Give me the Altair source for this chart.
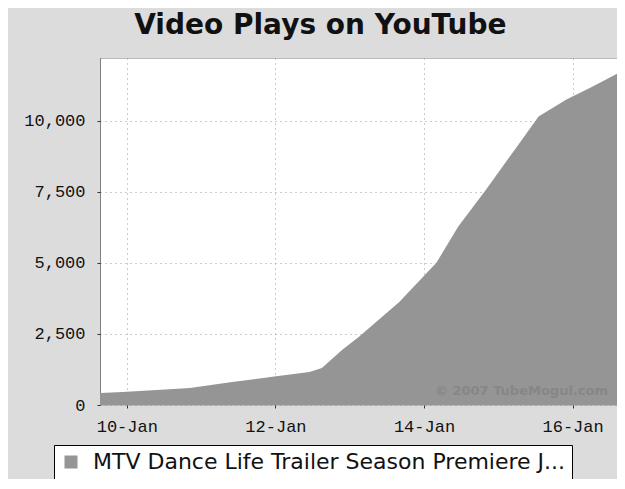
import altair as alt
import pandas as pd

# Cumulative video plays
times = [
    "2007-01-09T15:20", "2007-01-09T22:40", "2007-01-10T09:36", "2007-01-10T20:24",
    "2007-01-11T10:00", "2007-01-11T23:00", "2007-01-12T11:00", "2007-01-12T15:00",
    "2007-01-12T21:36", "2007-01-13T03:00", "2007-01-13T16:00", "2007-01-14T04:00",
    "2007-01-14T11:00", "2007-01-14T20:00", "2007-01-15T06:00", "2007-01-15T13:00",
    "2007-01-15T22:00", "2007-01-16T06:30", "2007-01-16T14:20",
]
plays = [
    420, 460, 530, 600,
    810, 990, 1160, 1300,
    1940, 2400, 3620, 5000,
    6270, 7570, 9080, 10140,
    10740, 11200, 11650,
]
series_name = "MTV Dance Life Trailer Season Premiere J..."
title_text = "Video Plays on YouTube"
watermark = "© 2007 TubeMogul.com"
y_ticks = [0, 2500, 5000, 7500, 10000]
x_ticks = ["2007-01-10", "2007-01-12", "2007-01-14", "2007-01-16"]

df = pd.DataFrame({"time": times, "plays": plays, "series": series_name})

x_vals = [alt.DateTime(year=2007, month=1, date=int(d[-2:])) for d in x_ticks]

area = alt.Chart(df).mark_area(opacity=1, interpolate="linear").encode(
    x=alt.X("time:T",
            scale=alt.Scale(domain=[alt.DateTime(year=2007, month=1, date=9, hours=15, minutes=20),
                                    alt.DateTime(year=2007, month=1, date=16, hours=14, minutes=20)]),
            axis=alt.Axis(values=x_vals, format="%d-%b", title=None, domain=False,
                          tickSize=3, labelPadding=10, tickColor="#333")),
    y=alt.Y("plays:Q",
            scale=alt.Scale(domain=[0, 12200], nice=False),
            axis=alt.Axis(values=y_ticks, format=",d", title=None,
                          tickSize=3, labelPadding=12, tickColor="#333",
                          domain=True, domainColor="#444", domainDash=[1, 1])),
    color=alt.Color("series:N",
                    scale=alt.Scale(domain=[series_name], range=["#959595"]),
                    legend=alt.Legend(title=None, orient="none", legendX=-46, legendY=387,
                                      symbolType="square", symbolSize=169,
                                      symbolStrokeWidth=0, labelOffset=11,
                                      labelFont="DejaVu Sans", labelFontSize=22,
                                      labelColor="#111", labelLimit=0,
                                      padding=6, strokeColor="#000",
                                      fillColor="#ffffff")),
)

wm = alt.Chart(pd.DataFrame({"t": [watermark]})).mark_text(
    font="DejaVu Sans", fontSize=13, fontWeight="bold", color="#666", opacity=0.3,
    align="right", baseline="middle",
).encode(text="t:N", x=alt.value(508), y=alt.value(333))

chart = alt.layer(area, wm).properties(
    width=517, height=347,
    title=alt.Title(title_text, font="DejaVu Sans", fontSize=28, fontWeight="bold",
                    color="#111", anchor="middle", frame="bounds", offset=18),
    autosize=alt.AutoSizeParams(type="none"),
    padding={"left": 92, "top": 50, "right": 0, "bottom": 74},
    background="#dcdcdc",
).configure_view(
    fill="#ffffff", stroke="#888", strokeDash=[1, 1],
).configure_axis(
    labelFont="Liberation Mono", labelFontSize=17, labelColor="#111",
    grid=True, gridColor="#999", gridDash=[1, 4], gridWidth=1,
)

chart.save("out.html", embed_options={"renderer": "svg", "actions": False})
